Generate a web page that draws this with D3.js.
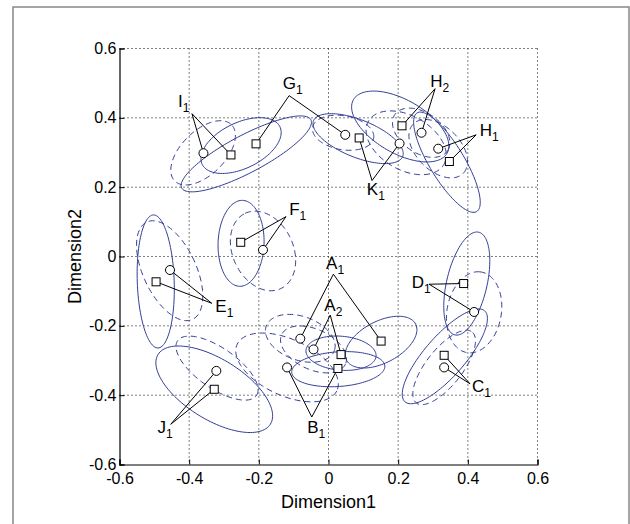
<!DOCTYPE html>
<html>
<head>
<meta charset="utf-8">
<title>Dimension1 / Dimension2 ellipses</title>
<script src="https://d3js.org/d3.v7.min.js"></script>
<style>
  html, body { margin:0; padding:0; background:#fff; overflow:hidden }
  svg { display:block; font-family: Arial, "Liberation Sans", Helvetica, sans-serif; }
</style>
</head>
<body>
<svg width="630" height="524"></svg>
<script>
  // axis ticks
  const xTicks = [-0.6, -0.4, -0.2, 0, 0.2, 0.4, 0.6];
  const yTicks = [-0.6, -0.4, -0.2, 0, 0.2, 0.4, 0.6];

  // one entry per label
  const names    = ["A", "A", "B", "C", "D", "E", "F", "G", "H", "H", "I", "J", "K"];
  const subs     = ["1", "2", "1", "1", "1", "1", "1", "1", "1", "2", "1", "1", "1"];
  const circleX  = [-0.081, -0.043, -0.119, 0.332, 0.418, -0.455, -0.188, 0.048, 0.315, 0.267, -0.359, -0.322, 0.204];
  const circleY  = [-0.237, -0.268, -0.320, -0.320, -0.160, -0.039, 0.019, 0.351, 0.311, 0.357, 0.298, -0.330, 0.326];
  const squareX  = [0.151, 0.036, 0.027, 0.332, 0.388, -0.495, -0.252, -0.208, 0.347, 0.211, -0.280, -0.328, 0.088];
  const squareY  = [-0.244, -0.283, -0.323, -0.285, -0.078, -0.073, 0.041, 0.325, 0.274, 0.377, 0.293, -0.383, 0.342];
  const anchorX  = [0.014, 0.005, -0.048, 0.406, 0.289, -0.335, -0.122, -0.113, 0.424, 0.306, -0.392, -0.453, 0.125];
  const anchorY  = [-0.051, -0.169, -0.463, -0.367, -0.080, -0.135, 0.115, 0.464, 0.351, 0.484, 0.412, -0.484, 0.219];
  const textX    = [-0.007, -0.012, -0.061, 0.412, 0.239, -0.325, -0.113, -0.131, 0.434, 0.292, -0.432, -0.491, 0.110];
  const textY    = [-0.036, -0.158, -0.510, -0.391, -0.092, -0.160, 0.120, 0.484, 0.349, 0.490, 0.432, -0.510, 0.178];

  // solid ellipses (centre, semi-axes, angle in degrees)
  const solidCx  = [0.151, 0.036, 0.028, 0.334, 0.397, -0.496, -0.251, -0.251, 0.340, 0.206, -0.236, -0.328, 0.085];
  const solidCy  = [-0.247, -0.279, -0.325, -0.288, -0.078, -0.072, 0.038, 0.320, 0.272, 0.375, 0.296, -0.383, 0.340];
  const solidA   = [0.112, 0.101, 0.134, 0.174, 0.152, 0.192, 0.124, 0.124, 0.166, 0.155, 0.210, 0.190, 0.138];
  const solidB   = [0.060, 0.049, 0.050, 0.058, 0.058, 0.053, 0.066, 0.066, 0.050, 0.077, 0.054, 0.087, 0.054];
  const solidAng = [28, -5, 4, 49, 77, 92, 88, 26, -59, -30, 28, -32, -22];

  // dashed ellipses
  const dashCx   = [-0.081, -0.043, -0.119, 0.332, 0.418, -0.456, -0.188, 0.042, 0.315, 0.266, -0.360, -0.320, 0.223];
  const dashCy   = [-0.236, -0.268, -0.320, -0.320, -0.161, -0.041, 0.016, 0.357, 0.311, 0.357, 0.299, -0.322, 0.328];
  const dashA    = [0.104, 0.101, 0.158, 0.130, 0.118, 0.155, 0.120, 0.089, 0.101, 0.092, 0.115, 0.138, 0.125];
  const dashB    = [0.063, 0.058, 0.081, 0.052, 0.078, 0.076, 0.087, 0.049, 0.063, 0.058, 0.063, 0.058, 0.078];
  const dashAng  = [-20, -25, -25, 52, 80, 115, 115, -10, -45, -35, 45, -35, -30];

  const svg = d3.select("svg");
  const pLeft = 119.5, pRight = 537.5, pTop = 48.5, pBottom = 464.5;
  const x = d3.scaleLinear().domain([-0.6, 0.6]).range([pLeft, pRight]);
  const y = d3.scaleLinear().domain([-0.6, 0.6]).range([pBottom, pTop]);

  // figure frame
  svg.append("rect")
    .attr("x", 13).attr("y", 7)
    .attr("width", 616).attr("height", 600)
    .attr("fill", "#fff")
    .attr("stroke", "#888").attr("stroke-width", 1.5);

  // dotted grid
  svg.append("g").selectAll("line").data(xTicks.slice(1)).join("line")
    .attr("x1", d => x(d)).attr("x2", d => x(d))
    .attr("y1", pTop).attr("y2", pBottom)
    .attr("stroke", "#000").attr("stroke-width", 1)
    .attr("stroke-dasharray", "1,3");
  svg.append("g").selectAll("line").data(yTicks.slice(1)).join("line")
    .attr("y1", d => y(d)).attr("y2", d => y(d))
    .attr("x1", pLeft).attr("x2", pRight)
    .attr("stroke", "#000").attr("stroke-width", 1)
    .attr("stroke-dasharray", "1,3");

  // axes, ticks pointing inward, plain hyphen minus like the original
  const fmt = d => d === 0 ? "0" : d.toFixed(1);
  const xAxis = svg.append("g")
    .attr("transform", `translate(0,${pBottom})`)
    .call(d3.axisBottom(x).tickValues(xTicks).tickSize(-5).tickPadding(8).tickFormat(fmt));
  const yAxis = svg.append("g")
    .attr("transform", `translate(${pLeft},0)`)
    .call(d3.axisLeft(y).tickValues(yTicks).tickSize(-5).tickPadding(4).tickFormat(fmt));
  [xAxis, yAxis].forEach(g => {
    g.select(".domain").attr("stroke", "#000").attr("stroke-width", 1.2);
    g.selectAll(".tick line").attr("stroke", "#000");
    g.selectAll(".tick text")
      .attr("font-family", "Arial, 'Liberation Sans', sans-serif")
      .attr("font-size", 16).attr("fill", "#000");
  });
  yAxis.selectAll(".tick text").attr("x", -3);

  svg.append("text")
    .attr("x", x(0)).attr("y", 508)
    .attr("text-anchor", "middle")
    .attr("font-size", 18)
    .text("Dimension1");
  svg.append("text")
    .attr("transform", `translate(81,${y(0)}) rotate(-90)`)
    .attr("text-anchor", "middle")
    .attr("font-size", 18)
    .text("Dimension2");

  // ellipses
  function ellipsePts(cx, cy, a, b, ang) {
    const t = ang * Math.PI / 180;
    return d3.range(0, 360, 3).map(k => {
      const u = k * Math.PI / 180;
      const ex = a * Math.cos(u), ey = b * Math.sin(u);
      return [cx + ex * Math.cos(t) - ey * Math.sin(t), cy + ex * Math.sin(t) + ey * Math.cos(t)];
    });
  }
  const ellipseLine = d3.line()
    .x(d => x(d[0])).y(d => y(d[1]))
    .curve(d3.curveCardinalClosed);

  const blue = "#313d96";
  svg.append("g").selectAll("path").data(d3.range(dashCx.length)).join("path")
    .attr("d", i => ellipseLine(ellipsePts(dashCx[i], dashCy[i], dashA[i], dashB[i], dashAng[i])))
    .attr("fill", "none")
    .attr("stroke", blue).attr("stroke-width", 1)
    .attr("stroke-dasharray", "6,4");
  svg.append("g").selectAll("path").data(d3.range(solidCx.length)).join("path")
    .attr("d", i => ellipseLine(ellipsePts(solidCx[i], solidCy[i], solidA[i], solidB[i], solidAng[i])))
    .attr("fill", "none")
    .attr("stroke", blue).attr("stroke-width", 1);

  // leader lines from label anchor to both markers
  const idx = d3.range(names.length);
  const leaders = svg.append("g");
  idx.forEach(i => {
    [[circleX[i], circleY[i]], [squareX[i], squareY[i]]].forEach(p => {
      leaders.append("line")
        .attr("x1", x(anchorX[i])).attr("y1", y(anchorY[i]))
        .attr("x2", x(p[0])).attr("y2", y(p[1]))
        .attr("stroke", "#000").attr("stroke-width", 1);
    });
  });

  // markers
  svg.append("g").selectAll("circle").data(idx).join("circle")
    .attr("cx", i => x(circleX[i])).attr("cy", i => y(circleY[i]))
    .attr("r", 4.5)
    .attr("fill", "#fff").attr("stroke", "#000").attr("stroke-width", 1);
  svg.append("g").selectAll("rect").data(idx).join("rect")
    .attr("x", i => x(squareX[i]) - 4).attr("y", i => y(squareY[i]) - 4)
    .attr("width", 8).attr("height", 8)
    .attr("fill", "#fff").attr("stroke", "#000").attr("stroke-width", 1);

  // labels with subscripts
  const lab = svg.append("g").selectAll("text").data(idx).join("text")
    .attr("x", i => x(textX[i])).attr("y", i => y(textY[i]))
    .attr("font-size", 17);
  lab.append("tspan").text(i => names[i]);
  lab.append("tspan").attr("font-size", 12).attr("dy", 5).text(i => subs[i]);
</script>
</body>
</html>
